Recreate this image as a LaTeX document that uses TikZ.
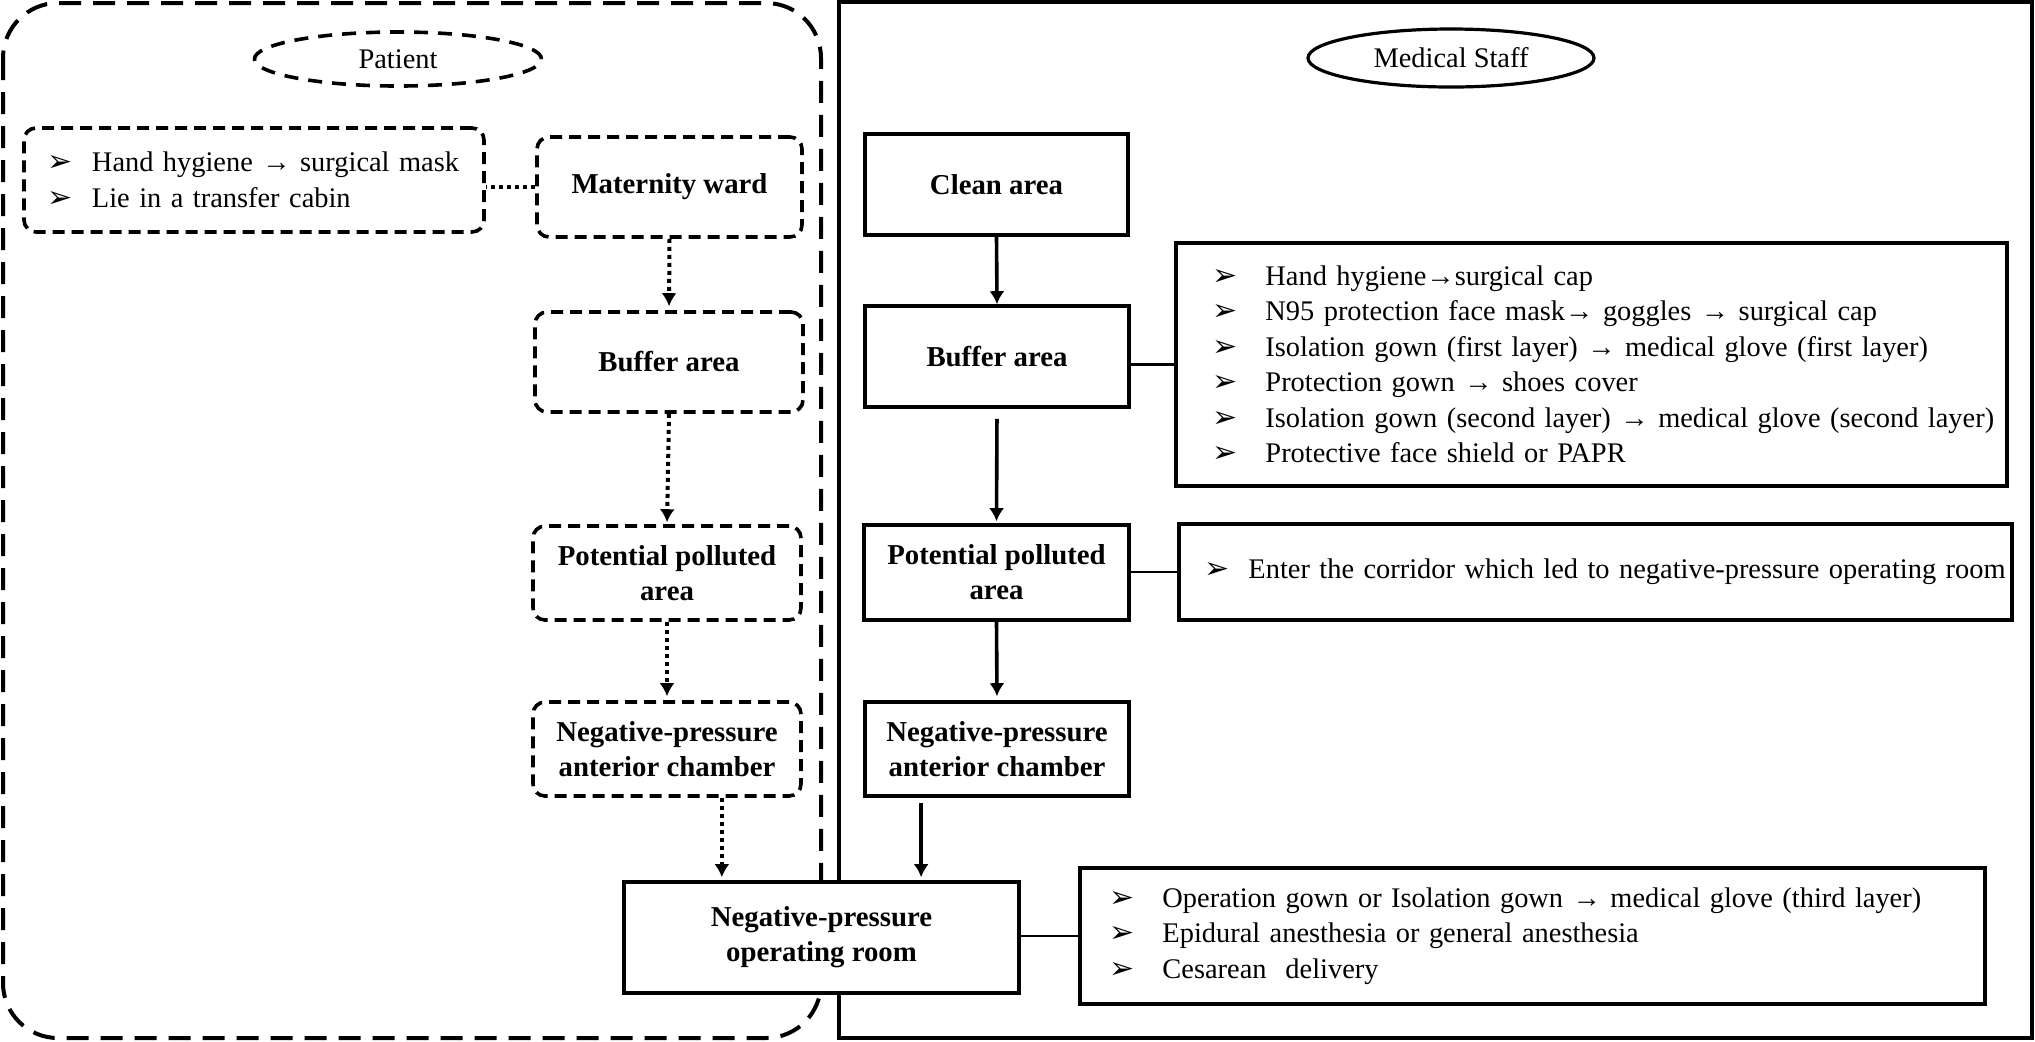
\documentclass[tikz,border=0pt]{standalone}
\usepackage{fontspec}
\setmainfont{Liberation Serif}
\newfontfamily\symfont{DejaVu Sans}
\usepackage{tikz}
\usetikzlibrary{arrows.meta}
\usetikzlibrary{shapes,shapes.geometric}
\usetikzlibrary{calc}
\tikzset{>={Latex[length=6.5pt,width=7.5pt]}}
\tikzset{
  areafont/.style={font=\bfseries\fontsize{14.4}{17.5}\selectfont},
  listfont/.style={font=\fontsize{14.2}{17.75}\selectfont},
  pbox/.style={draw, line width=1.8pt, dash pattern=on 6pt off 3.5pt, rounded corners=6pt,
    fill=white, areafont, align=center, inner sep=0pt},
  sbox/.style={draw, line width=1.8pt, fill=white, areafont, align=center, inner sep=0pt},
  notebox/.style={draw, line width=1.8pt, fill=white, listfont, align=left, inner xsep=0pt, inner ysep=0pt},
  pnotebox/.style={notebox, dash pattern=on 6pt off 3.5pt, rounded corners=6pt},
  pellipse/.style={ellipse, draw, line width=1.8pt, dash pattern=on 7pt off 5pt, listfont, inner sep=0pt},
  sellipse/.style={ellipse, draw, line width=1.6pt, listfont, inner sep=0pt},
  dotarrow/.style={->, line width=2pt, dash pattern=on 2pt off 2pt},
  dotline/.style={line width=2pt, dash pattern=on 2pt off 2pt},
  solidarrow/.style={->, line width=1.8pt},
  thinline/.style={line width=1.2pt}
}
\newlength{\bulwidth}
\setlength{\bulwidth}{22pt}
\newcommand{\bul}[1][12pt]{\hspace*{#1}\makebox[\bulwidth][l]{\symfont\fontsize{15}{15}\selectfont ➢}}

\begin{document}
\begin{tikzpicture}[x=0.5pt, y=-0.5pt]
        \useasboundingbox (0,0) rectangle (2035,1041);
        % the two sides
        \draw[line width=2pt, dash pattern=on 11pt off 6pt, rounded corners=27.5pt] (3,3) rectangle (821,1038);
        \draw[line width=1.8pt] (839,2) rectangle (2032,1038);
        \node[pellipse, minimum width=143.5pt, minimum height=27pt] (patient) at (398,59) {Patient};
        \node[sellipse, minimum width=143pt, minimum height=29pt] (staff) at (1451,58) {Medical Staff};
        % patient route
        \node[pnotebox, text width=230pt, minimum height=52pt] (pnote) at (254,180)
          {\bul Hand hygiene → surgical mask\\ \bul Lie in a transfer cabin};
        \node[pbox, minimum width=132.5pt, minimum height=50pt] (pward) at (669.5,187) {Maternity ward};
        \node[pbox, minimum width=134pt, minimum height=50pt] (pbuffer) at (669,362) {Buffer area};
        \node[pbox, minimum width=134pt, minimum height=47pt] (ppoll) at (667,573) {Potential polluted\\area};
        \node[pbox, minimum width=134pt, minimum height=47pt] (pante) at (667,749) {Negative-pressure\\anterior chamber};
        % staff route
        \node[sbox, minimum width=131.5pt, minimum height=50.5pt] (sclean) at (996.5,184.5) {Clean area};
        \node[sbox, minimum width=132pt, minimum height=50.5pt] (sbuffer) at (997,356.5) {Buffer area};
        \node[sbox, minimum width=132.5pt, minimum height=47.5pt] (spoll) at (996.5,572.5) {Potential polluted\\area};
        \node[sbox, minimum width=132pt, minimum height=47pt] (sante) at (997,749) {Negative-pressure\\anterior chamber};
        \node[sbox, minimum width=197.5pt, minimum height=55.5pt] (oproom) at (821.5,937.5) {Negative-pressure\\operating room};
        % what is done in each area
        \node[notebox, text width=415.5pt, minimum height=121.5pt] (sbufnote) at (1591.5,364.5)
          {\bul[18pt] Hand hygiene→surgical cap\\
           \bul[18pt] N95 protection face mask→ goggles → surgical cap\\
           \bul[18pt] Isolation gown (first layer) → medical glove (first layer)\\
           \bul[18pt] Protection gown → shoes cover\\
           \bul[18pt] Isolation gown (second layer) → medical glove (second layer)\\
           \bul[18pt] Protective face shield or PAPR};
        \node[notebox, text width=416.5pt, minimum height=48pt] (spollnote) at (1595.5,572)
          {\setlength{\bulwidth}{17.5pt}\bul[12.5pt] Enter the corridor which led to negative-pressure operating room};
        \node[notebox, text width=452.5pt, minimum height=68pt] (opnote) at (1532.5,936)
          {\bul[14.5pt] Operation gown or Isolation gown → medical glove (third layer)\\
           \bul[14.5pt] Epidural anesthesia or general anesthesia\\
           \bul[14.5pt] Cesarean\ \ delivery};
        % connectors
        \coordinate (opleft) at ($(oproom.north west)!0.25!(oproom.north east)$);
        \coordinate (opright) at ($(oproom.north west)!0.75!(oproom.north east)$);
        \draw[dotline] (pward.west) -- (pward.west -| pnote.east);
        \draw[dotarrow, shorten >=2pt] (pward.south) -- (pbuffer.north);
        \draw[dotarrow, shorten >=1pt] (pbuffer.south) -- (ppoll.north);
        \draw[dotarrow, shorten >=2pt] (ppoll.south) -- (pante.north);
        \draw[dotarrow, shorten >=1.5pt] (pante.south -| opleft) -- (opleft);
        \draw[solidarrow] (sclean.south) -- (sbuffer.north);
        \draw[solidarrow, shorten <=5pt, shorten >=1pt] (sbuffer.south) -- (spoll.north);
        \draw[solidarrow, shorten >=2pt] (spoll.south) -- (sante.north);
        \draw[solidarrow, shorten <=2.5pt, shorten >=1.5pt] (sante.south -| opright) -- (opright);
        \draw[thinline] (sbufnote.west -| sbuffer.east) -- (sbufnote.west);
        \draw[thinline] (spollnote.west -| spoll.east) -- (spollnote.west);
        \draw[thinline] (opnote.west -| oproom.east) -- (opnote.west);
      \end{tikzpicture}
\end{document}
